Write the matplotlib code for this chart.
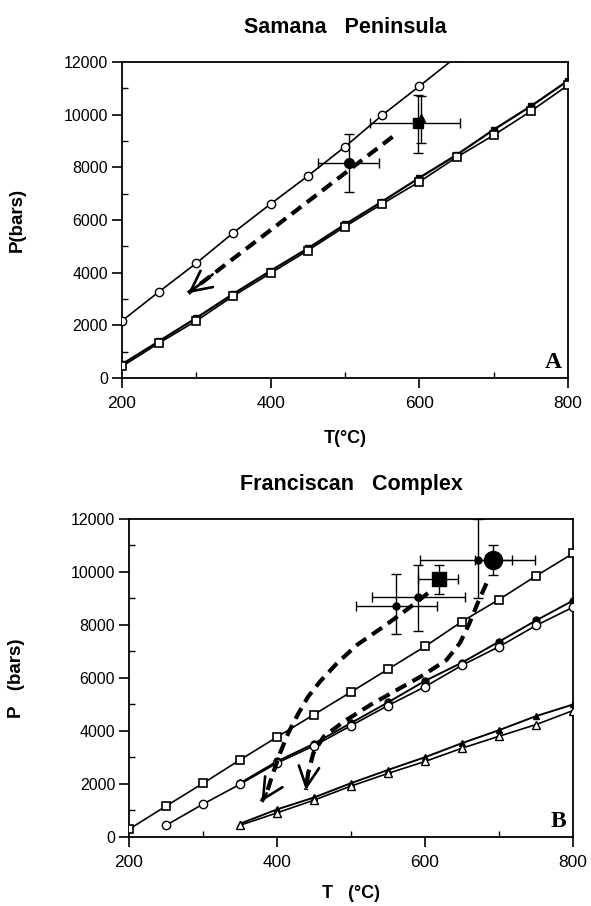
import matplotlib
matplotlib.use('Agg')
import matplotlib.pyplot as plt
from matplotlib.ticker import MultipleLocator

plt.rcParams['font.family'] = ['Liberation Sans', 'DejaVu Sans']

# ---------------- Panel A : Samana Peninsula ----------------
a_T = [200, 250, 300, 350, 400, 450, 500, 550, 600, 650, 700, 750, 800]
a_sq_open = [440, 1330, 2170, 3120, 3980, 4840, 5750, 6610, 7450, 8380, 9220, 10130, 11120]
a_sq_fill = [520, 1400, 2280, 3200, 4070, 4920, 5830, 6700, 7600, 8470, 9430, 10320, 11290]
a_circ_T = [200, 250, 300, 350, 400, 450, 500, 550, 600, 650]
a_circ = [2170, 3280, 4360, 5520, 6610, 7670, 8780, 9980, 11080, 12200]

a_pt_circ = dict(T=505, P=8150, xerr=41, yerr=1100)
a_pt_sq = dict(T=598, P=9700, xerr=[[65], [57]], yerr=[[1150], [1050]])
a_pt_tri = dict(T=602, P=9870, yerr=[[950], [850]])

a_path_T = [564, 289]
a_path_P = [9160, 3220]

# ---------------- Panel B : Franciscan Complex ----------------
b_sq_T = [200, 250, 300, 350, 400, 450, 500, 550, 600, 650, 700, 750, 800]
b_sq = [290, 1165, 2025, 2910, 3770, 4620, 5470, 6330, 7190, 8130, 8960, 9850, 10700]
b_circ_T = [250, 300, 350, 400, 450, 500, 550, 600, 650, 700, 750, 800]
b_circ_open = [440, 1240, 1990, 2790, 3440, 4200, 4960, 5670, 6480, 7180, 7980, 8670]
b_circf_T = [350, 400, 450, 500, 550, 600, 650, 700, 750, 800]
b_circ_fill = [2030, 2850, 3520, 4300, 5080, 5890, 6580, 7370, 8170, 8920]
b_tri_T = [350, 400, 450, 500, 550, 600, 650, 700, 750, 800]
b_tri_open = [440, 910, 1390, 1920, 2400, 2850, 3350, 3800, 4240, 4770]
b_tri_fill = [500, 1040, 1490, 2030, 2530, 3010, 3540, 4030, 4560, 5000]

b_pts_small_T = [561, 590, 671]
b_pts_small_P = [8730, 9050, 10470]
b_pts_small_xerr = [[54, 61, 78], [55, 64, 78]]
b_pts_small_yerr = [[1080, 1265, 1470], [1200, 1230, 1530]]
b_pt_sq = dict(T=619, P=9720, xerr=[[29], [25]], yerr=[[570], [530]])
b_pt_big = dict(T=692, P=10470, xerr=25, yerr=[[600], [540]])

b_path1_T = [604, 575, 544, 508, 481, 458, 442, 429, 415, 404, 393, 386, 379]
b_path1_P = [9200, 8570, 7940, 7245, 6554, 5860, 5295, 4668, 3913, 3158, 2277, 1648, 1333]
b_path2_T = [683, 672, 659, 647, 629, 598, 562, 526, 490, 463, 449, 442, 439]
b_path2_P = [9570, 8880, 8000, 7310, 6680, 6113, 5547, 4981, 4351, 3785, 3158, 2403, 1774]

x_ticks = [200, 400, 600, 800]
y_ticks = [0, 2000, 4000, 6000, 8000, 10000, 12000]

fig = plt.figure(figsize=(5.91, 9.06), dpi=100)
axA = fig.add_axes([0.2064, 0.5828, 0.7547, 0.3488])
axB = fig.add_axes([0.2183, 0.0762, 0.7513, 0.3510])

dash_kw = dict(color='black', lw=3.0, dashes=(2.9, 1.7), solid_capstyle='butt',
               dash_capstyle='butt', zorder=5)
arrow_kw = dict(arrowstyle='->,head_length=0.7,head_width=0.35', lw=1.9, color='black',
                mutation_scale=21, shrinkA=0, shrinkB=0)


def style_axes(ax):
    ax.set_xlim(200, 800)
    ax.set_ylim(0, 12000)
    ax.set_xticks(x_ticks)
    ax.set_yticks(y_ticks)
    ax.xaxis.set_minor_locator(MultipleLocator(100))
    ax.yaxis.set_minor_locator(MultipleLocator(1000))
    ax.tick_params(which='major', direction='out', length=7, width=1.2)
    ax.tick_params(axis='x', which='major', labelsize=12.5, pad=6)
    ax.tick_params(axis='y', which='major', labelsize=11.5, pad=3)
    ax.tick_params(which='minor', direction='in', length=4, width=1.0)
    for s in ax.spines.values():
        s.set_linewidth(1.3)


# ---- Panel A ----
axA.plot(a_T, a_sq_fill, '-s', color='black', mfc='black', ms=5, lw=1.6, zorder=2)
axA.plot(a_T, a_sq_open, '-s', color='black', mfc='white', ms=6, mew=1.2, lw=1.2, zorder=3)
axA.plot(a_circ_T, a_circ, '-o', color='black', mfc='white', ms=6, mew=1.0, lw=1.2, zorder=3)
axA.errorbar(a_pt_circ['T'], a_pt_circ['P'], xerr=a_pt_circ['xerr'], yerr=a_pt_circ['yerr'],
             fmt='o', color='black', ms=7, capsize=3.5, elinewidth=1.0, capthick=1.0, zorder=4)
axA.errorbar(a_pt_sq['T'], a_pt_sq['P'], xerr=a_pt_sq['xerr'], yerr=a_pt_sq['yerr'],
             fmt='s', color='black', ms=7, capsize=3.5, elinewidth=1.0, capthick=1.0, zorder=4)
axA.errorbar(a_pt_tri['T'], a_pt_tri['P'], yerr=a_pt_tri['yerr'],
             fmt='^', color='black', ms=6, capsize=3.5, elinewidth=1.0, capthick=1.0, zorder=4)
axA.plot(a_path_T, a_path_P, **dash_kw)
axA.annotate('', xy=(a_path_T[-1], a_path_P[-1]),
             xytext=(a_path_T[-1] + 0.12 * (a_path_T[0] - a_path_T[-1]),
                     a_path_P[-1] + 0.12 * (a_path_P[0] - a_path_P[-1])),
             arrowprops=arrow_kw, zorder=6)
style_axes(axA)
axA.text(0.985, 0.015, 'A', transform=axA.transAxes, ha='right', va='bottom',
         fontsize=17, fontweight='bold', family=['Liberation Serif', 'DejaVu Serif'])
axA.set_title('Samana   Peninsula', fontsize=15.5, fontweight='bold', pad=21)
axA.set_xlabel('T(°C)', fontsize=13, fontweight='bold')
axA.set_ylabel('P(bars)', fontsize=13.5, fontweight='bold')
axA.xaxis.set_label_coords(0.5, -0.165)
axA.yaxis.set_label_coords(-0.215, 0.5)

# ---- Panel B ----
axB.plot(b_sq_T, b_sq, '-s', color='black', mfc='white', ms=6, mew=1.2, lw=1.2, zorder=3)
axB.plot(b_circf_T, b_circ_fill, '-o', color='black', mfc='black', ms=5, lw=1.4, zorder=2)
axB.plot(b_circ_T, b_circ_open, '-o', color='black', mfc='white', ms=6, mew=1.0, lw=1.2, zorder=3)
axB.plot(b_tri_T, b_tri_fill, '-^', color='black', mfc='black', ms=5, lw=1.4, zorder=2)
axB.plot(b_tri_T, b_tri_open, '-^', color='black', mfc='white', ms=6, mew=1.0, lw=1.2, zorder=3)
axB.errorbar(b_pts_small_T, b_pts_small_P, xerr=b_pts_small_xerr, yerr=b_pts_small_yerr,
             fmt='o', color='black', ms=5, capsize=3.5, elinewidth=1.0, capthick=1.0, zorder=4)
axB.errorbar(b_pt_sq['T'], b_pt_sq['P'], xerr=b_pt_sq['xerr'], yerr=b_pt_sq['yerr'],
             fmt='s', color='black', ms=10, capsize=3.5, elinewidth=1.0, capthick=1.0, zorder=4)
axB.errorbar(b_pt_big['T'], b_pt_big['P'], xerr=b_pt_big['xerr'], yerr=b_pt_big['yerr'],
             fmt='o', color='black', ms=13, capsize=3.5, elinewidth=1.0, capthick=1.0, zorder=4)
for pT, pP in ((b_path1_T, b_path1_P), (b_path2_T, b_path2_P)):
    axB.plot(pT, pP, **dash_kw)
    axB.annotate('', xy=(pT[-1], pP[-1]),
                 xytext=(pT[-2], pP[-2]),
                 arrowprops=arrow_kw, zorder=6)
style_axes(axB)
axB.text(0.985, 0.015, 'B', transform=axB.transAxes, ha='right', va='bottom',
         fontsize=17, fontweight='bold', family=['Liberation Serif', 'DejaVu Serif'])
axB.set_title('Franciscan   Complex', fontsize=15.5, fontweight='bold', pad=21)
axB.set_xlabel('T   (°C)', fontsize=13, fontweight='bold')
axB.set_ylabel('P   (bars)', fontsize=13.5, fontweight='bold')
axB.xaxis.set_label_coords(0.5, -0.15)
axB.yaxis.set_label_coords(-0.235, 0.5)

fig.savefig('out.png', dpi=100, facecolor='white')
